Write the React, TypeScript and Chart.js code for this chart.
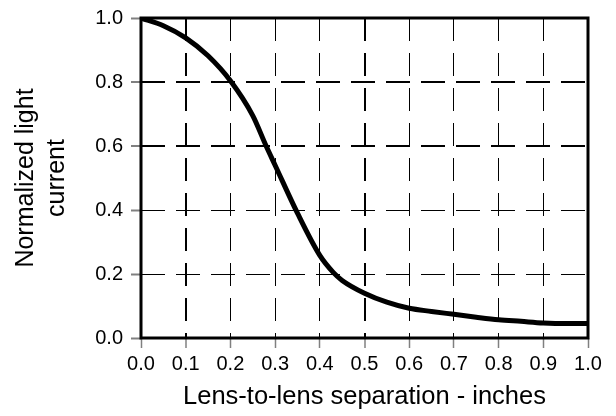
import React, { useEffect, useRef } from "react";
import { Chart, registerables } from "chart.js";

Chart.register(...registerables);

const separation = [0, 0.05, 0.1, 0.15, 0.2, 0.25, 0.28, 0.3, 0.35, 0.4, 0.43, 0.45, 0.5, 0.55, 0.6, 0.65, 0.7, 0.75, 0.8, 0.85, 0.9, 0.95, 1.0];
const lightCurrent = [1.0, 0.976, 0.938, 0.882, 0.804, 0.695, 0.6, 0.54, 0.39, 0.258, 0.205, 0.18, 0.14, 0.112, 0.093, 0.083, 0.074, 0.065, 0.057, 0.052, 0.047, 0.045, 0.045];
const xTicks = [0, 0.1, 0.2, 0.3, 0.4, 0.5, 0.6, 0.7, 0.8, 0.9, 1.0];
const yTicks = [0, 0.2, 0.4, 0.6, 0.8, 1.0];
const thickX = [0.1, 0.5];
const thickY = [0.6, 0.8];

const FONT = "'Liberation Sans', Arial, sans-serif";

const framePlugin = {
  id: "frame",
  afterDatasetsDraw(chart: any) {
    const { ctx, chartArea } = chart;
    ctx.save();
    ctx.strokeStyle = "#000";
    ctx.lineWidth = 3;
    ctx.setLineDash([]);
    ctx.strokeRect(chartArea.left, chartArea.top, chartArea.right - chartArea.left, chartArea.bottom - chartArea.top);
    ctx.restore();
  },
};

const near = (v: number, arr: number[]) => arr.some((a) => Math.abs(a - v) < 1e-6);

export default function App() {
  const ref = useRef<HTMLCanvasElement | null>(null);
  useEffect(() => {
    if (!ref.current) return;
    const chart = new Chart(ref.current, {
      type: "line",
      data: {
        datasets: [
          {
            data: separation.map((x, i) => ({ x, y: lightCurrent[i] })),
            borderColor: "#000",
            borderWidth: 5,
            pointRadius: 0,
            cubicInterpolationMode: "monotone",
            fill: false,
          },
        ],
      },
      options: {
        animation: false,
        responsive: false,
        layout: { padding: { top: 10, right: 20, left: 0, bottom: 0 } },
        plugins: { legend: { display: false }, tooltip: { enabled: false } },
        scales: {
          x: {
            type: "linear",
            min: 0,
            max: 1,
            afterBuildTicks: (s: any) => {
              s.ticks = xTicks.map((v) => ({ value: v }));
            },
            afterFit: (s: any) => {
              s.height = 78;
            },
            ticks: {
              autoSkip: false,
              maxRotation: 0,
              minRotation: 0,
              padding: 6,
              color: "#000",
              font: { family: FONT, size: 20, lineHeight: 1 },
              callback: (v: any) => Number(v).toFixed(1),
            },
            grid: {
              color: "#000",
              lineWidth: (c: any) => (c.tick && near(c.tick.value, thickX) ? 2 : 1),
              tickColor: "#808080",
              tickWidth: 1.5,
              tickLength: 10,
            },
            border: { display: false, dash: [23, 12], dashOffset: 0 },
            title: {
              display: true,
              text: "Lens-to-lens separation - inches",
              color: "#000",
              font: { family: FONT, size: 25.5, lineHeight: 1.25 },
              padding: { top: 0, bottom: 3 },
            },
          },
          y: {
            type: "linear",
            min: 0,
            max: 1,
            afterBuildTicks: (s: any) => {
              s.ticks = yTicks.map((v) => ({ value: v }));
            },
            afterFit: (s: any) => {
              s.width = 133;
              s.paddingTop = 10;
              s.paddingBottom = 10;
            },
            ticks: {
              padding: 8,
              color: "#000",
              font: { family: FONT, size: 20, lineHeight: 1 },
              callback: (v: any) => Number(v).toFixed(1),
            },
            grid: {
              color: "#000",
              lineWidth: (c: any) => (c.tick && near(c.tick.value, thickY) ? 2 : 1),
              tickColor: "#808080",
              tickWidth: 2,
              tickLength: 10,
            },
            border: { display: false, dash: [24, 11], dashOffset: 0 },
            title: {
              display: true,
              text: ["Normalized light", "current"],
              color: "#000",
              font: { family: FONT, size: 25, lineHeight: 1.25 },
              padding: { top: 2, bottom: 0 },
            },
          },
        },
      },
      plugins: [framePlugin],
    } as any);
    return () => chart.destroy();
  }, []);
  return (
    <div style={{ width: 600, height: 408 }}>
      <canvas ref={ref} width={600} height={408} style={{ display: "block" }} />
    </div>
  );
}
